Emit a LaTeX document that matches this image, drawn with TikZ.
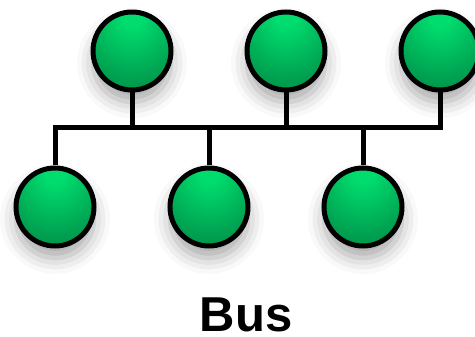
\documentclass[tikz,border=0pt]{standalone}
\usepackage{fontspec}
\setmainfont{Liberation Sans}
\usetikzlibrary{shadows.blur}
\definecolor{g1}{HTML}{00DD6E}
\definecolor{g2}{HTML}{00A050}
\definecolor{g3}{HTML}{00703A}
\definecolor{g4}{HTML}{005528}
\pgfdeclareradialshading{greenball}{\pgfpoint{0bp}{24bp}}{color(0bp)=(g1); color(6bp)=(g1); color(32bp)=(g2); color(58bp)=(g3); color(76bp)=(g4)}
\tikzset{
  ball/.style={circle, minimum size=78pt, inner sep=0pt, draw=black, line width=5pt, shading=greenball,
    blur shadow={shadow xshift=0pt, shadow yshift=-12pt, shadow blur radius=16pt, shadow opacity=35}},
  wire/.style={draw=black, line width=5pt, line cap=butt},
  lbl/.style={font=\bfseries\fontsize{49}{49}\selectfont, anchor=base, inner sep=0pt}
}
\begin{document}
\begin{tikzpicture}[x=1pt, y=-1pt]
\useasboundingbox (0,0) rectangle (475,337);
\coordinate (busL) at (55,128);
\coordinate (busR) at (440,128);
\node[ball] (t1) at (132,51) {};
\node[ball] (t2) at (286,51) {};
\node[ball] (t3) at (440,51) {};
\node[ball] (b1) at (55,207) {};
\node[ball] (b2) at (209,207) {};
\node[ball] (b3) at (363,207) {};
\draw[wire] (b1.north) -- (busL) -- (busR) -- (t3.south);
\draw[wire] (t1.south) -- (t1 |- busL);
\draw[wire] (t2.south) -- (t2 |- busL);
\draw[wire] (b2.north) -- (b2 |- busL);
\draw[wire] (b3.north) -- (b3 |- busL);
\node[lbl] (lab) at (246,331) {Bus};
\end{tikzpicture}
\end{document}
